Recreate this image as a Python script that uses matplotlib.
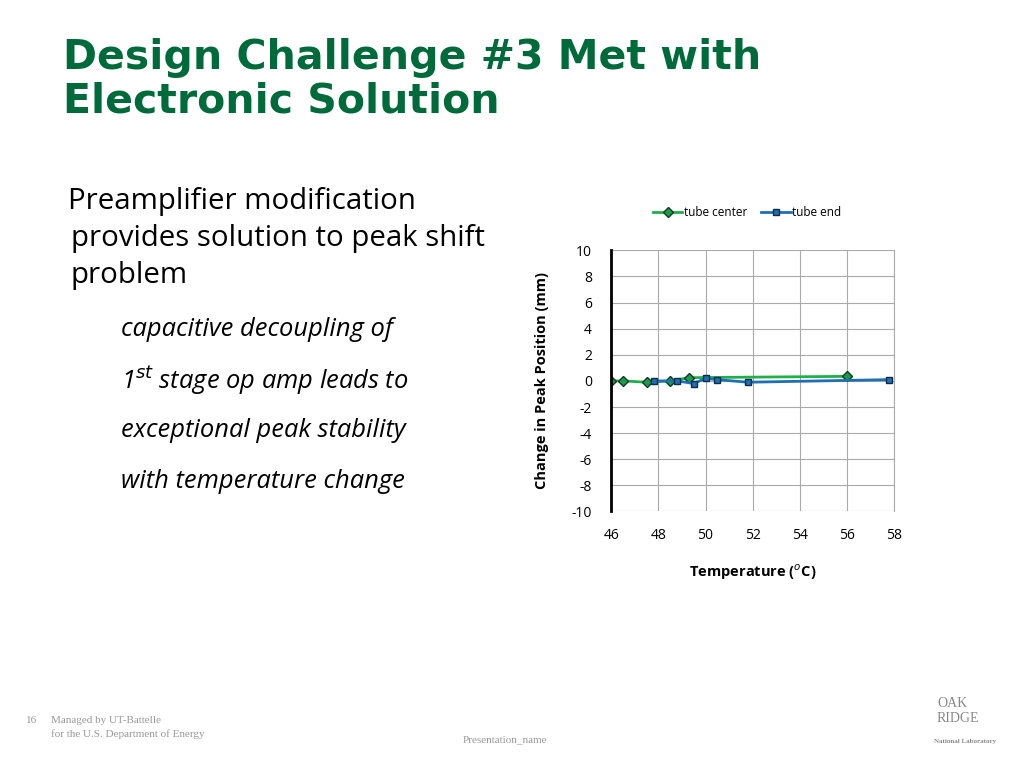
import matplotlib.pyplot as plt

plt.rcParams["axes.unicode_minus"] = False

# ── Data ──────────────────────────────────────────────────────────────────────
center_t = [46.0, 46.5, 47.5, 48.5, 49.3, 56.0]
center_y = [0.0, 0.0, -0.1, 0.0, 0.25, 0.35]
end_t = [47.8, 48.8, 49.5, 50.0, 50.5, 51.8, 57.8]
end_y = [0.0, 0.0, -0.2, 0.2, 0.1, -0.1, 0.1]
xticks = [46, 48, 50, 52, 54, 56, 58]
yticks = list(range(-10, 11, 2))

GREEN = "#006b3a"
fig = plt.figure(figsize=(10.24, 7.68), dpi=100)

# ── Slide text ────────────────────────────────────────────────────────────────
fig.text(0.062, 0.925, "Design Challenge #3 Met with", fontsize=29.5, weight="bold",
         color=GREEN, va="center", family="DejaVu Sans")
fig.text(0.062, 0.868, "Electronic Solution", fontsize=29.5, weight="bold",
         color=GREEN, va="center", family="DejaVu Sans")
fig.text(0.066, 0.737, "Preamplifier modification", fontsize=21.2, va="center", family="Open Sans")
fig.text(0.069, 0.689, "provides solution to peak shift", fontsize=21.2, va="center", family="Open Sans")
fig.text(0.069, 0.641, "problem", fontsize=21.2, va="center", family="Open Sans")
for y, s in [(0.571, "capacitive decoupling of"),
             (0.505, r"1$^{st}$ stage op amp leads to"),
             (0.439, "exceptional peak stability"),
             (0.373, "with temperature change")]:
    fig.text(0.118, y, s, fontsize=18.4, style="italic", va="center", family="Open Sans")

fig.text(0.025, 0.058, "16", fontsize=8, color="#999999", family="Liberation Serif")
fig.text(0.05, 0.058, "Managed by UT-Battelle", fontsize=8, color="#999999", family="Liberation Serif")
fig.text(0.05, 0.04, "for the U.S. Department of Energy", fontsize=8, color="#999999", family="Liberation Serif")
fig.text(0.452, 0.033, "Presentation_name", fontsize=8, color="#999999", family="Liberation Serif")
fig.text(0.915, 0.06, "OAK\nRIDGE", fontsize=10, color="#888888", family="Liberation Serif")
fig.text(0.912, 0.033, "National Laboratory", fontsize=5, color="#888888", family="Liberation Serif", weight="bold")

# ── Chart ─────────────────────────────────────────────────────────────────────
ax = fig.add_axes([0.597, 0.334, 0.276, 0.340])
ax.plot(center_t, center_y, color="#1fb04a", lw=2, marker="D", ms=5,
        mfc="#1f9a4a", mec="#0b3d1f", label="tube center")
ax.plot(end_t, end_y, color="#1f6fb4", lw=2, marker="s", ms=5,
        mfc="#1f6fb4", mec="#0b2d4a", label="tube end")
ax.set_xlim(46, 58)
ax.set_ylim(-10, 10)
ax.set_xticks(xticks)
ax.set_yticks(yticks)
ax.grid(color="#aaaaaa", lw=0.8)
for s in ["top", "bottom"]:
    ax.spines[s].set_visible(False)
ax.spines["right"].set_color("#aaaaaa")
ax.spines["right"].set_linewidth(0.8)
ax.spines["left"].set_linewidth(2)
ax.tick_params(length=0, labelsize=10, pad=12)
ax.tick_params(axis="y", pad=14)
for lab in ax.get_xticklabels() + ax.get_yticklabels():
    lab.set_family("Open Sans")
ax.set_xlabel("Temperature ($^o$C)", fontsize=10.5, weight="bold", labelpad=14, family="Open Sans")
ax.set_ylabel("Change in Peak Position (mm)", fontsize=10.5, weight="bold", labelpad=16, family="Open Sans")
ax.legend(loc="lower center", bbox_to_anchor=(0.48, 1.08), ncol=2, frameon=False,
          handlelength=2.5, handletextpad=0.1, columnspacing=1.2,
          prop={"family": "Open Sans", "size": 8.5})

fig.savefig("out.png", dpi=100)
